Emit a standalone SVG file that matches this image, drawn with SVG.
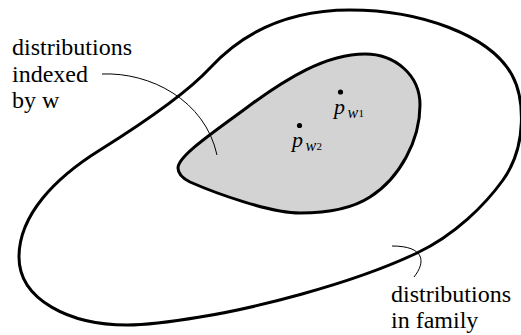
<svg xmlns="http://www.w3.org/2000/svg" width="521" height="335" viewBox="0 0 521 335">
<style>
.blob{stroke:#000;stroke-width:3;stroke-linejoin:round}
.lead{fill:none;stroke:#000;stroke-width:1}
.lbl{font-family:'Liberation Serif',serif;font-size:24px;fill:#000}
.mi{font-family:'Liberation Serif',serif;font-style:italic;fill:#000}
.mn{font-family:'Liberation Serif',serif;font-size:11px;fill:#000}
</style>
<rect width="521" height="335" fill="#fff"/>
<g id="family">
<path class="blob" fill="none" d="M19,257 C19,215 55,178 100,150 C140,125 185,95 210,68 C245,30 290,10 350,10 C420,10 490,35 512,75 C524,97 528,145 503,180 C485,205 455,235 417,253 C350,285 250,309 200,317 C170,322 150,325 127,325 C70,325 19,300 19,257 Z"/>
</g>
<g id="indexed">
<path class="blob" fill="#d3d3d3" d="M178,168 C178,155 220,128 253,103 C285,80 325,54 365,54 C395,54 420,75 420,105 C420,140 400,178 370,197 C350,210 325,213 300,213 C270,213 215,193 190,182 C182,178 178,173 178,168 Z"/>
</g>
<g id="connectors">
<path class="lead" d="M102,74 C150,72 205,100 217,155"/>
<path class="lead" d="M392,246 C425,246 426,262 414,277"/>
</g>
<g id="p_w1">
<circle cx="340.5" cy="92" r="2.6"/>
<text class="mi" x="334" y="114" font-size="22">p</text>
<text class="mi" x="347.5" y="118" font-size="16">w</text>
<text class="mn" x="358.5" y="116.5">1</text>
</g>
<g id="p_w2">
<circle cx="299.5" cy="125.5" r="2.6"/>
<text class="mi" x="292" y="147" font-size="22">p</text>
<text class="mi" x="305.5" y="151" font-size="16">w</text>
<text class="mn" x="316.5" y="149.5">2</text>
</g>
<g id="label-indexed">
<text class="lbl" x="12" y="55">distributions</text>
<text class="lbl" x="12" y="82">indexed</text>
<text class="lbl" x="12" y="108">by w</text>
</g>
<g id="label-family">
<text class="lbl" x="391" y="302">distributions</text>
<text class="lbl" x="391" y="328">in family</text>
</g>
</svg>
